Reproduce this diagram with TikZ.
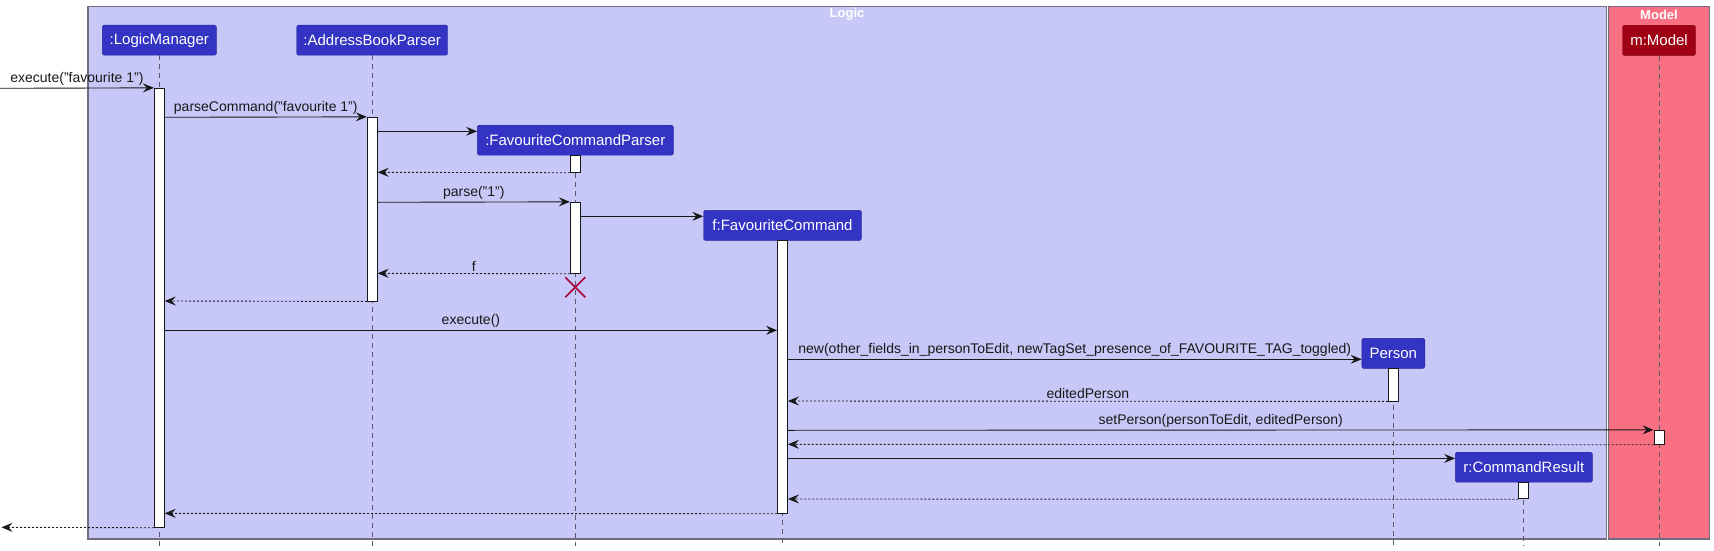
\documentclass[tikz,border=0pt]{standalone}
\usepackage{fontspec}
\setmainfont{Liberation Sans}
\usetikzlibrary{arrows.meta}
\definecolor{logicbg}{HTML}{C8C8F8}
\definecolor{partblue}{HTML}{3333C4}
\definecolor{modelbg}{HTML}{FA7083}
\definecolor{modeldark}{HTML}{A00014}
\definecolor{framegray}{HTML}{6E6E80}
\definecolor{xred}{HTML}{A80036}
\definecolor{lifegray}{HTML}{5A5A6A}
\definecolor{ink}{HTML}{181818}
\begin{document}
\begin{tikzpicture}[x=1pt,y=-1pt,
  frame/.style={draw=framegray, line width=1.1pt},
  part/.style={draw=partblue!80!black, fill=partblue, text=white, rounded corners=1.5pt,
    font=\fontsize{15}{17}\selectfont, inner sep=0pt, minimum height=30pt},
  mpart/.style={part, fill=modeldark, draw=modeldark!80!black},
  act/.style={draw=ink, fill=white, line width=0.9pt, minimum width=10pt, inner sep=0pt},
  life/.style={draw=lifegray, line width=0.8pt, dash pattern=on 5pt off 4pt},
  msg/.style={draw=ink, line width=0.9pt, -{Stealth[length=11pt,width=9pt,inset=4pt]}},
  ret/.style={msg, dash pattern=on 2pt off 2pt},
  lbl/.style={font=\fontsize{14}{16}\selectfont, text=ink, inner sep=2pt},
  ttl/.style={font=\bfseries\fontsize{13}{15}\selectfont, text=white}
]
\useasboundingbox (0,0) rectangle (1714,551);
% frames
\draw[frame, fill=logicbg] (88,6.7) rectangle (1606.7,539);
\draw[frame, fill=modelbg] (1608.3,6.7) rectangle (1709.3,539);
\node[ttl] (tlogic) at (847,14.5) {Logic};
\node[ttl] (tmodel) at (1659,14.5) {Model};
% participants
\node[part, minimum width=114pt] (lm) at (159.3,40.2) {:LogicManager};
\node[part, minimum width=151pt] (abp) at (372.2,40.2) {:AddressBookParser};
\node[part, minimum width=196pt] (fcp) at (575.3,140.2) {:FavouriteCommandParser};
\node[part, minimum width=158pt] (fc) at (782.5,225.3) {f:FavouriteCommand};
\node[part, minimum width=63pt] (per) at (1393.3,353.3) {Person};
\node[part, minimum width=137pt] (cr) at (1523.8,467.2) {r:CommandResult};
\node[mpart, minimum width=73pt] (mdl) at (1659,40.4) {m:Model};
% lifelines
\coordinate (bot) at (0,545.5);
\foreach \p in {lm,abp,fcp,fc,per,cr,mdl}{
  \draw[life] (\p.south) -- (\p.south |- bot);
}
% activation bars
\node[act, minimum height=439pt] (lmA) at (159.3,307.8) {};
\node[act, minimum height=183.7pt] (abpA) at (372.2,209.15) {};
\node[act, minimum height=17pt] (fcpA1) at (575.3,163.8) {};
\node[act, minimum height=71pt] (fcpA2) at (575.3,237.8) {};
\node[act, minimum height=273pt] (fcA) at (782.5,376.8) {};
\node[act, minimum height=32.7pt] (perA) at (1393.3,384.65) {};
\node[act, minimum height=14pt] (mdlA) at (1659,437.3) {};
\node[act, minimum height=16.8pt] (crA) at (1523.8,490.4) {};
% destroy
\coordinate (xd) at (575.3,287.3);
\draw[xred, line width=1.6pt] ([shift={(-10,-10)}]xd) -- ([shift={(10,10)}]xd)
  ([shift={(-10,10)}]xd) -- ([shift={(10,-10)}]xd);
% message levels
\coordinate (extin) at (0,88.3);
\coordinate (extout) at (1.5,527.3);
\coordinate (y2) at (0,117.3);
\coordinate (y3) at (0,131.3);
\coordinate (y4) at (0,172.3);
\coordinate (y5) at (0,202.3);
\coordinate (y6) at (0,216.3);
\coordinate (y7) at (0,273.3);
\coordinate (y8) at (0,301);
\coordinate (y9) at (0,330.3);
\coordinate (y10) at (0,359.3);
\coordinate (y11) at (0,401);
\coordinate (y12) at (0,430.3);
\coordinate (y13) at (0,444.3);
\coordinate (y14) at (0,458.4);
\coordinate (y15) at (0,499);
\coordinate (y16) at (0,513.3);
% messages
\draw[msg] (extin) -- (lmA.north west) node[lbl, midway, above] {execute("favourite 1")};
\draw[msg] (lmA.east |- y2) -- (abpA.north west) node[lbl, midway, above] {parseCommand("favourite 1")};
\draw[msg] (abpA.east |- y3) -- (fcp.west |- y3);
\draw[ret] (fcpA1.south west) -- (abpA.east |- y4);
\draw[msg] (abpA.east |- y5) -- (fcpA2.north west) node[lbl, midway, above] {parse("1")};
\draw[msg] (fcpA2.east |- y6) -- (fc.west |- y6);
\draw[ret] (fcpA2.south west) -- (abpA.east |- y7) node[lbl, midway, above] {f};
\draw[ret] (abpA.south west) -- (lmA.east |- y8);
\draw[msg] (lmA.east |- y9) -- (fcA.west |- y9) node[lbl, midway, above] {execute()};
\draw[msg] (fcA.east |- y10) -- (per.west |- y10) node[lbl, midway, above] {new(other\_fields\_in\_personToEdit, newTagSet\_presence\_of\_FAVOURITE\_TAG\_toggled)};
\draw[ret] (perA.south west) -- (fcA.east |- y11) node[lbl, midway, above] {editedPerson};
\draw[msg] (fcA.east |- y12) -- (mdlA.north west) node[lbl, midway, above] {setPerson(personToEdit, editedPerson)};
\draw[ret] (mdlA.south west) -- (fcA.east |- y13);
\draw[msg] (fcA.east |- y14) -- (cr.west |- y14);
\draw[ret] (crA.south west) -- (fcA.east |- y15);
\draw[ret] (fcA.south west) -- (lmA.east |- y16);
\draw[ret] (lmA.south west) -- (extout);
\end{tikzpicture}
\end{document}
